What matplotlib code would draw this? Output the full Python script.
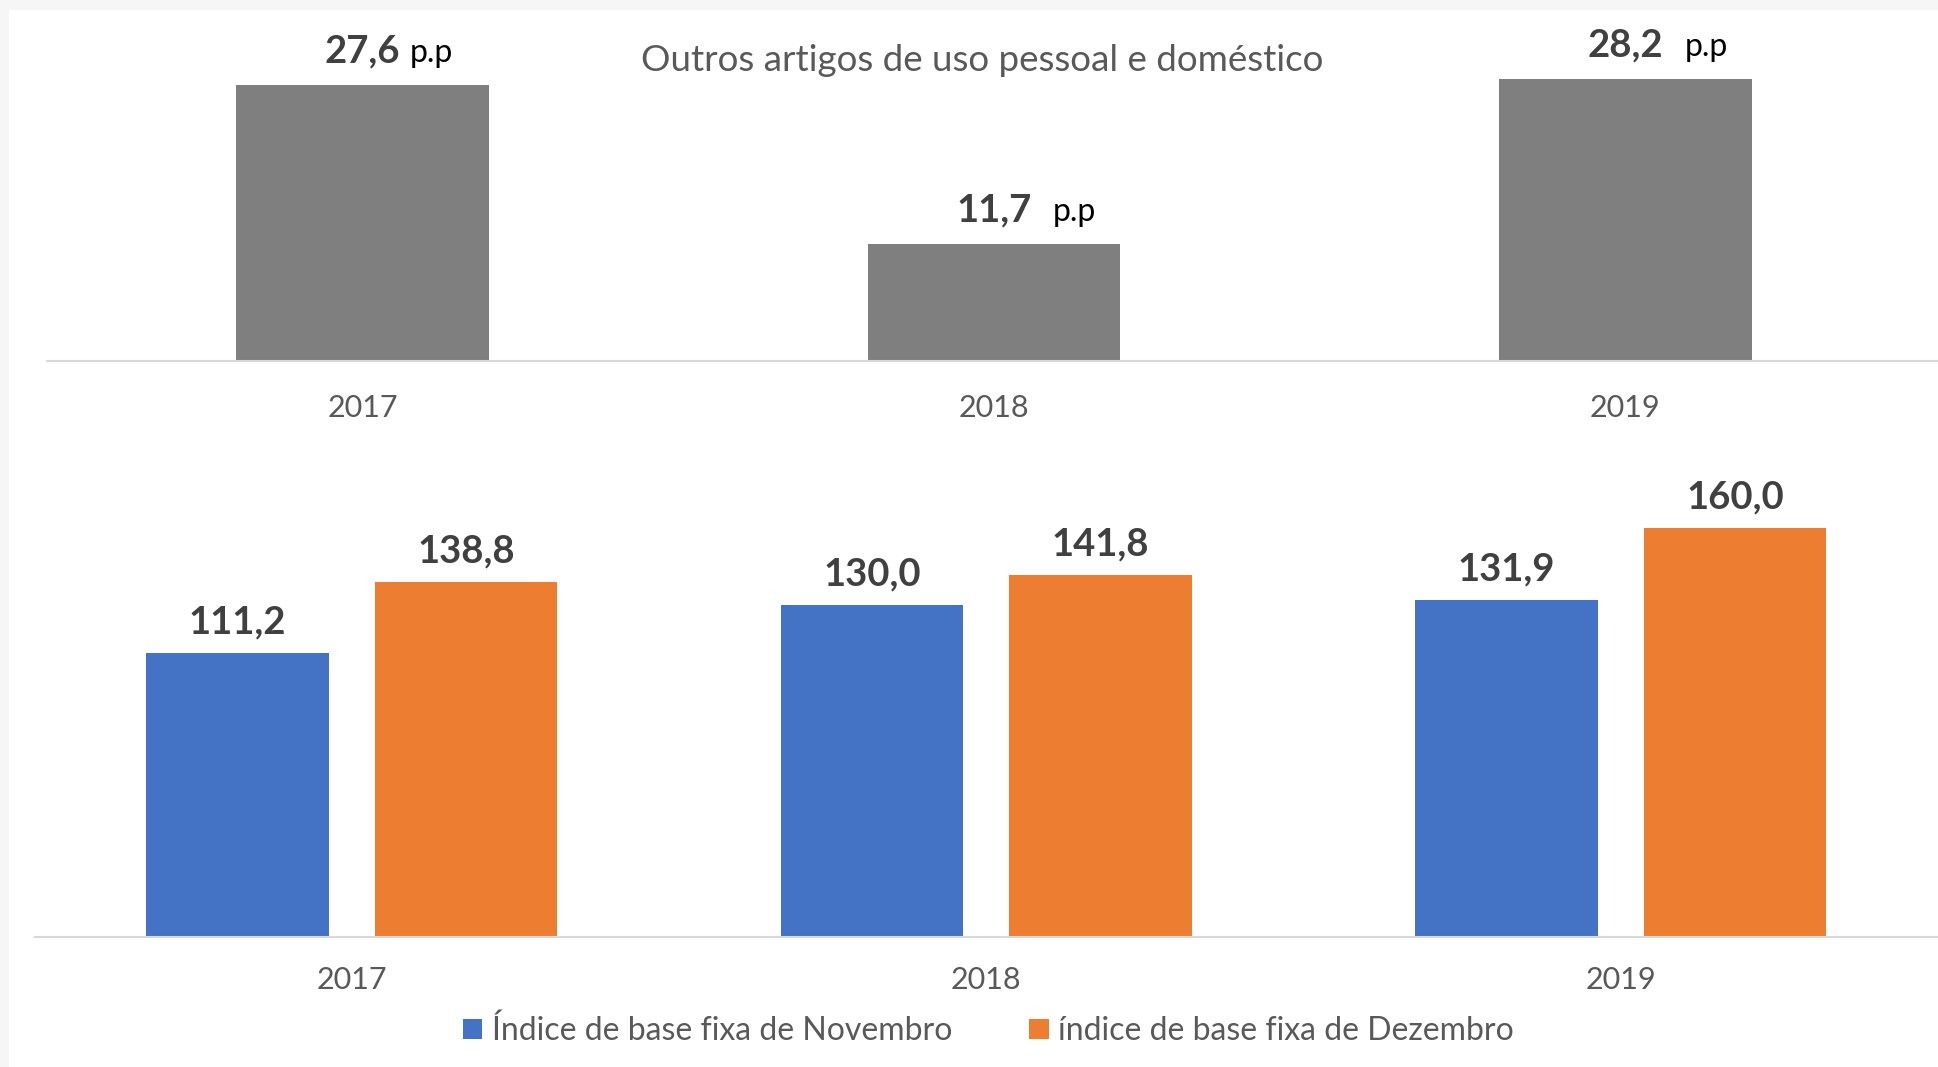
import matplotlib
matplotlib.use("Agg")
import matplotlib.pyplot as plt
from matplotlib.patches import Rectangle, Patch
import numpy as np

plt.rcParams['font.family'] = ['Lato', 'DejaVu Sans']

# ---------------- data ----------------
years = ["2017", "2018", "2019"]
diff_pp = [27.6, 11.7, 28.2]
diff_labels = ["27,6", "11,7", "28,2"]
pp_suffix = "p.p"
title_top = "Outros artigos de uso pessoal e doméstico"

nov_index = [111.2, 130.0, 131.9]
dec_index = [138.8, 141.8, 160.0]
nov_labels = ["111,2", "130,0", "131,9"]
dec_labels = ["138,8", "141,8", "160,0"]
legend_labels = ["Índice de base fixa de Novembro", "índice de base fixa de Dezembro"]

# ---------------- style ----------------
W, H = 1938, 1067
DPI = 100
GRAY = "#7f7f7f"
BLUE = "#4472c4"
ORANGE = "#ed7d31"
AXIS = "#d9d9d9"
TICK = "#595959"
VAL = "#404040"
VAL_FS = 27.5
TICK_FS = 22
TOP_OFF = 16.5
BOT_OFF = 14

fig = plt.figure(figsize=(W / DPI, H / DPI), dpi=DPI)
fig.patch.set_facecolor("#f6f6f6")
fig.patches.append(Rectangle((9 / W, 0), 1, 1 - 10 / H, transform=fig.transFigure,
                             facecolor="white", edgecolor="none", zorder=-10))

x = np.arange(len(years))

# ---------------- top panel ----------------
ax1 = fig.add_axes([47 / W, 1 - 361 / H, (1941 - 47) / W, 340 / H])
ax1.set_facecolor("none")
ax1.bar(x, diff_pp, width=0.4, color=GRAY, zorder=2)
ax1.set_xlim(-0.5, 2.5)
ax1.set_ylim(0, 34)
ax1.set_xticks(x)
ax1.set_xticklabels(years, fontsize=TICK_FS, color=TICK)
ax1.tick_params(axis="x", length=0, pad=23.7)
ax1.set_yticks([])
for s in ["top", "right", "left"]:
    ax1.spines[s].set_visible(False)
ax1.spines["bottom"].set_color(AXIS)
ax1.spines["bottom"].set_linewidth(1.5)

num_texts = []
for xi, v, lab in zip(x, diff_pp, diff_labels):
    t = ax1.annotate(lab, (xi, v), xytext=(0, TOP_OFF), textcoords="offset points",
                     ha="center", va="baseline", fontsize=VAL_FS, fontweight="bold", color=VAL)
    num_texts.append(t)

fig.text(0.507, 1 - 60.5 / H, title_top, ha="center", va="center", fontsize=26.5, color=TICK)

# ---------------- bottom panel ----------------
ax2 = fig.add_axes([34.6 / W, 1 - 937 / H, (1938 - 34.6) / W, 460 / H])
ax2.set_facecolor("none")
bw = 0.288
off = 0.18
ax2.bar(x - off, nov_index, width=bw, color=BLUE, zorder=2, label=legend_labels[0])
ax2.bar(x + off, dec_index, width=bw, color=ORANGE, zorder=2, label=legend_labels[1])
ax2.set_xlim(-0.5, 2.5)
ax2.set_ylim(0, 180)
ax2.set_xticks(x)
ax2.set_xticklabels(years, fontsize=TICK_FS, color=TICK)
ax2.tick_params(axis="x", length=0, pad=21)
ax2.set_yticks([])
for s in ["top", "right", "left"]:
    ax2.spines[s].set_visible(False)
ax2.spines["bottom"].set_color(AXIS)
ax2.spines["bottom"].set_linewidth(1.5)

for xi, v, lab in zip(x - off, nov_index, nov_labels):
    ax2.annotate(lab, (xi, v), xytext=(0, BOT_OFF), textcoords="offset points",
                 ha="center", va="baseline", fontsize=VAL_FS, fontweight="bold", color=VAL)
for xi, v, lab in zip(x + off, dec_index, dec_labels):
    ax2.annotate(lab, (xi, v), xytext=(0, BOT_OFF), textcoords="offset points",
                 ha="center", va="baseline", fontsize=VAL_FS, fontweight="bold", color=VAL)

handles = [Patch(facecolor=BLUE, edgecolor="none"), Patch(facecolor=ORANGE, edgecolor="none")]
leg = fig.legend(handles, legend_labels, loc="center", bbox_to_anchor=(0.510, 1 - 1031 / H),
                 ncol=2, frameon=False, fontsize=23, handlelength=0.62, handleheight=0.62,
                 handletextpad=0.3, columnspacing=2.4)
for t in leg.get_texts():
    t.set_color(TICK)

# "p.p" suffixes placed right after the bold numbers
fig.canvas.draw()
renderer = fig.canvas.get_renderer()
gaps = [9, 21, 22]
for t, g, xi, v in zip(num_texts, gaps, x, diff_pp):
    bb = t.get_window_extent(renderer)
    xpix, ypix = ax1.transData.transform((xi, v))
    dx_pt = (bb.x1 + g - xpix) * 72 / DPI
    ax1.annotate(pp_suffix, (xi, v), xytext=(dx_pt, TOP_OFF), textcoords="offset points",
                 ha="left", va="baseline", fontsize=23, color="black")

fig.savefig("out.png", dpi=DPI, facecolor=fig.get_facecolor())
